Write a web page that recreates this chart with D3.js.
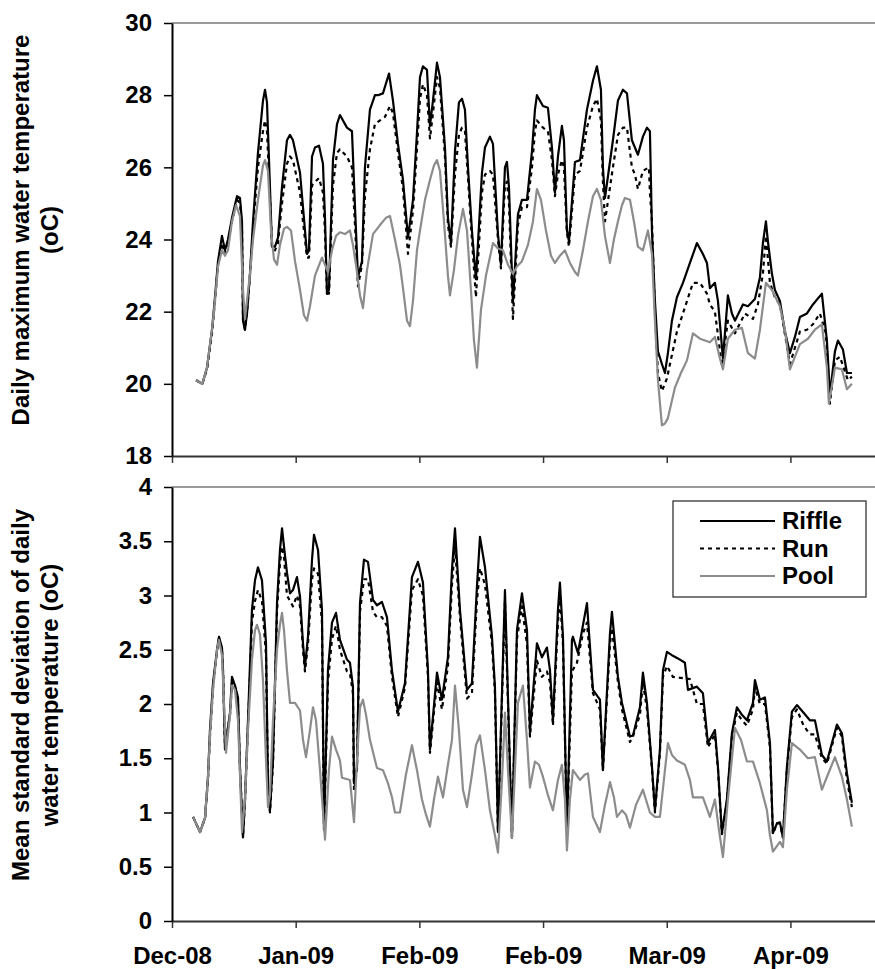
<!DOCTYPE html>
<html>
<head>
<meta charset="utf-8">
<script src="https://cdn.jsdelivr.net/npm/d3@7"></script>
<style>
body { margin: 0; background: #fff; }
svg text { font-family: "Liberation Sans", Arial, sans-serif; font-weight: bold; fill: #000; }
</style>
</head>
<body>
<svg id="chart" width="875" height="969"></svg>
<script>
// x positions are days from the first axis tick
var tickDays = [0, 20, 40, 60, 80, 100];
var tickLabels = ["Dec-08", "Jan-09", "Feb-09", "Feb-09", "Mar-09", "Apr-09"];
var seriesNames = ["Riffle", "Run", "Pool"];
var maxTicks = [18, 20, 22, 24, 26, 28, 30];
var sdTicks = [0, 0.5, 1, 1.5, 2, 2.5, 3, 3.5, 4];

// daily maximum water temperature (oC), [day, value]
var maxRiffle = [[3.9,20.1],[4.9,20.0],[5.66,20.45],[6.47,21.5],[6.95,22.4],[7.44,23.4],[8.08,24.1],[8.57,23.7],[9.05,24.0],[9.70,24.6],[10.51,25.2],[10.99,25.15],[11.32,24.5],[11.48,21.75],[11.80,21.5],[12.13,21.95],[12.61,23.05],[13.10,24.5],[13.90,26.4],[14.71,27.85],[15.04,28.15],[15.36,27.8],[15.84,25.45],[16.17,23.8],[16.65,23.8],[17.14,24.05],[17.79,25.45],[18.59,26.75],[19.08,26.9],[19.56,26.75],[20.70,25.85],[21.18,24.9],[21.83,23.6],[22.15,23.7],[22.64,26.3],[23.12,26.55],[23.77,26.6],[24.41,26.1],[24.74,24.6],[25.06,22.5],[25.38,22.6],[26.03,26.2],[26.68,27.2],[27.16,27.45],[28.29,27.1],[29.10,27.0],[29.59,24.9],[30.07,22.95],[30.72,23.4],[31.20,26.0],[32.01,27.6],[32.82,28.0],[33.31,28.0],[34.11,28.05],[35.09,28.6],[35.73,27.85],[36.54,26.65],[37.35,25.65],[38.16,24.05],[38.97,25.1],[39.61,26.95],[40.10,28.5],[40.58,28.8],[41.23,28.7],[41.71,27.15],[42.20,27.85],[42.85,28.9],[43.33,28.5],[44.14,26.55],[44.62,24.6],[45.11,23.9],[45.76,26.45],[46.40,27.8],[46.89,27.9],[47.37,27.6],[47.86,26.0],[48.50,24.25],[49.15,22.9],[50.12,25.85],[50.61,26.55],[51.41,26.85],[51.90,26.65],[52.71,24.15],[53.19,23.3],[53.84,26.0],[54.16,26.15],[54.49,25.45],[55.13,22.25],[55.94,24.7],[56.59,25.1],[57.40,25.1],[58.21,26.45],[58.69,27.6],[59.01,28.0],[59.98,27.7],[60.79,27.65],[61.44,26.55],[61.92,25.3],[62.41,26.3],[63.05,27.15],[63.38,26.75],[63.86,24.25],[64.19,23.95],[65.16,26.15],[65.97,26.2],[67.10,27.6],[68.07,28.4],[68.71,28.8],[69.36,28.15],[69.68,26.0],[70.01,25.15],[71.30,26.75],[72.11,27.85],[72.92,28.15],[73.57,28.05],[74.37,26.75],[75.34,26.35],[76.15,26.85],[76.80,27.1],[77.28,27.0],[77.61,24.25],[78.09,22.3],[78.58,20.9],[79.22,20.55],[79.71,20.3],[80.19,20.85],[80.84,21.75],[81.65,22.4],[82.62,22.8],[83.75,23.35],[84.88,23.9],[85.85,23.6],[86.50,23.35],[86.98,22.65],[87.79,22.8],[88.28,22.3],[89.09,20.7],[89.89,22.45],[90.54,21.95],[91.03,21.75],[92.32,22.2],[93.13,22.15],[94.26,22.35],[95.07,22.95],[95.55,23.9],[96.04,24.5],[96.36,23.95],[97.01,23.05],[97.49,22.6],[98.30,22.3],[99.11,21.45],[99.92,20.85],[100.73,21.3],[101.54,21.85],[102.67,21.95],[103.64,22.2],[105.09,22.5],[105.90,21.2],[106.39,19.7],[107.20,20.9],[107.68,21.2],[108.49,20.95],[109.14,20.3],[109.94,20.3]];

var maxRun = [[3.9,20.1],[4.9,20.0],[5.66,20.4],[6.47,21.4],[6.95,22.3],[7.44,23.3],[8.08,23.9],[8.57,23.6],[9.05,23.9],[9.70,24.5],[10.51,25.1],[10.99,25.0],[11.32,24.3],[11.48,21.8],[11.80,21.5],[12.13,22.0],[12.61,23.0],[13.10,24.3],[13.90,26.0],[14.71,27.0],[15.04,27.3],[15.36,27.0],[15.84,25.2],[16.17,23.8],[16.65,23.7],[17.14,23.9],[17.79,25.0],[18.59,26.1],[19.08,26.3],[19.56,26.2],[20.70,25.3],[21.18,24.5],[21.83,23.5],[22.15,23.5],[22.64,25.5],[23.12,25.6],[23.77,25.7],[24.41,25.3],[24.74,24.2],[25.06,22.5],[25.38,22.5],[26.03,25.5],[26.68,26.4],[27.16,26.5],[28.29,26.3],[29.10,26.0],[29.59,24.4],[30.07,22.7],[30.72,23.3],[31.20,25.2],[32.01,26.5],[32.82,27.2],[33.63,27.3],[34.44,27.4],[35.25,27.7],[35.73,27.5],[36.54,26.4],[37.35,25.4],[38.16,23.6],[38.97,24.8],[39.61,26.5],[40.10,27.9],[40.58,28.3],[41.23,28.0],[41.71,26.8],[42.20,27.5],[42.85,28.5],[43.33,28.2],[44.14,26.3],[44.62,24.4],[45.11,23.8],[45.76,25.8],[46.40,26.9],[46.89,27.1],[47.37,27.0],[47.86,25.7],[48.50,24.0],[49.15,22.4],[50.12,25.3],[50.61,25.8],[51.41,25.9],[51.90,25.8],[52.71,24.0],[53.19,23.2],[53.84,25.5],[54.16,25.6],[54.49,25.0],[55.13,21.8],[55.94,24.4],[56.59,24.9],[57.40,24.9],[58.21,26.0],[58.69,27.0],[59.01,27.3],[59.98,27.1],[60.79,27.0],[61.44,26.2],[61.92,25.2],[62.41,25.8],[63.05,26.2],[63.38,26.0],[63.86,24.2],[64.19,23.8],[65.16,25.8],[65.97,25.9],[67.10,27.1],[68.07,27.7],[68.71,27.9],[69.36,27.3],[69.68,25.6],[70.01,24.5],[71.30,26.0],[72.11,26.9],[72.92,27.1],[73.57,27.1],[74.37,26.0],[74.86,25.8],[75.34,25.4],[76.15,25.9],[77.12,26.0],[77.28,25.3],[77.61,24.5],[78.09,22.0],[78.58,20.3],[79.22,19.8],[80.03,20.15],[80.84,20.8],[81.65,21.45],[82.62,21.95],[84.24,22.8],[85.37,22.8],[86.50,22.5],[86.98,22.2],[87.79,22.0],[88.92,20.5],[89.89,21.75],[91.03,21.4],[92.64,21.95],[93.94,21.8],[94.74,22.2],[95.55,23.05],[96.04,24.1],[96.69,22.8],[97.49,22.4],[98.30,22.2],[99.92,20.55],[101.54,21.45],[102.67,21.5],[103.64,21.65],[104.77,21.95],[105.74,21.4],[106.39,19.45],[107.20,20.65],[108.00,20.75],[109.30,20.1],[109.94,20.2]];

var maxPool = [[3.9,20.1],[4.9,20.0],[5.66,20.45],[6.47,21.5],[6.95,22.3],[7.44,23.25],[8.08,23.7],[8.57,23.55],[9.05,23.7],[9.70,24.5],[10.35,24.95],[10.99,24.65],[11.48,22.6],[11.80,21.8],[12.61,23.05],[13.10,24.0],[13.90,25.1],[14.71,26.05],[15.04,26.2],[15.52,25.9],[16.01,24.25],[16.49,23.45],[16.98,23.3],[17.46,23.85],[18.11,24.3],[18.59,24.35],[19.24,24.25],[19.89,23.4],[20.70,22.6],[21.34,21.9],[21.83,21.75],[22.31,22.15],[23.12,23.0],[24.25,23.5],[24.74,23.3],[25.22,23.1],[25.87,23.7],[26.52,24.1],[27.16,24.2],[27.97,24.15],[28.78,24.25],[29.26,23.85],[29.75,23.3],[30.40,22.45],[30.88,22.1],[31.53,23.15],[32.50,24.15],[33.63,24.4],[34.60,24.6],[35.25,24.65],[36.05,24.0],[36.86,23.3],[37.35,22.65],[38.00,21.75],[38.48,21.6],[38.97,22.3],[39.61,23.7],[40.10,24.25],[40.91,25.1],[41.71,25.65],[42.36,26.05],[42.85,26.2],[43.33,25.9],[43.98,24.5],[44.62,23.0],[44.95,22.45],[45.59,23.15],[46.24,24.1],[47.05,24.85],[47.70,24.25],[48.34,22.6],[48.83,21.2],[49.31,20.45],[49.96,22.05],[50.77,23.0],[51.90,23.9],[52.71,23.75],[53.52,23.7],[54.33,23.3],[55.13,23.05],[55.78,23.25],[56.59,23.4],[57.56,23.85],[58.37,24.5],[59.01,25.4],[59.66,25.1],[60.47,24.25],[61.28,23.55],[61.92,23.35],[62.73,23.55],[63.54,23.7],[64.35,23.35],[65.16,23.1],[65.64,23.0],[66.45,23.7],[67.26,24.5],[68.07,25.2],[68.71,25.4],[69.36,25.1],[70.01,24.1],[70.33,23.8],[70.82,23.35],[71.46,24.0],[72.11,24.5],[72.76,24.95],[73.24,25.15],[74.05,25.1],[74.70,24.5],[75.34,23.8],[76.15,23.7],[76.96,24.25],[77.61,23.6],[78.09,21.75],[78.58,20.1],[79.22,18.85],[79.71,18.9],[80.19,19.05],[81.33,19.9],[82.30,20.3],[83.27,20.65],[84.24,21.4],[85.37,21.25],[86.98,21.15],[87.79,21.3],[88.60,20.7],[89.09,20.4],[89.89,21.25],[91.03,21.5],[92.16,21.55],[93.13,20.85],[94.26,20.7],[95.07,21.5],[96.04,22.8],[97.01,22.6],[98.30,22.15],[99.11,21.5],[99.92,20.4],[101.54,21.1],[102.83,21.25],[103.96,21.5],[105.09,21.65],[105.90,20.45],[106.22,19.45],[107.20,20.45],[108.33,20.4],[109.14,19.85],[109.94,20.0]];

// mean standard deviation of daily water temperature (oC), [day, value]
var sdRiffle = [[3.40,0.96],[4.53,0.82],[5.34,0.95],[5.82,1.33],[6.14,1.76],[6.63,2.19],[7.28,2.5],[7.60,2.62],[8.08,2.52],[8.25,2.31],[8.57,1.58],[9.38,1.92],[9.70,2.25],[10.19,2.17],[10.67,2.06],[10.99,1.42],[11.48,0.77],[11.80,1.12],[12.29,1.85],[12.93,2.87],[13.42,3.14],[13.90,3.26],[14.55,3.14],[15.20,2.56],[15.52,1.27],[15.84,1.02],[16.33,1.48],[16.98,2.93],[17.46,3.42],[17.79,3.62],[18.11,3.45],[18.59,3.21],[19.08,3.02],[19.56,3.05],[20.21,3.17],[20.70,2.99],[21.18,2.56],[21.50,2.34],[21.99,2.62],[22.64,3.33],[22.96,3.56],[23.61,3.42],[24.25,2.87],[24.58,0.84],[25.22,2.31],[25.87,2.75],[26.52,2.84],[27.16,2.59],[28.29,2.41],[28.78,2.38],[29.26,2.16],[29.43,1.27],[29.91,1.42],[30.40,2.93],[31.04,3.33],[31.69,3.31],[32.50,2.96],[33.14,2.91],[33.95,2.94],[34.76,2.80],[35.57,2.31],[36.54,1.93],[37.67,2.19],[38.80,3.17],[39.77,3.31],[40.58,3.12],[41.39,2.31],[41.71,1.58],[42.85,2.29],[43.65,2.04],[44.62,2.43],[45.27,3.24],[45.76,3.62],[46.56,2.87],[47.70,2.13],[48.50,2.19],[49.31,3.08],[49.80,3.54],[50.61,3.26],[51.74,2.62],[52.22,2.16],[52.71,0.82],[53.84,3.05],[54.97,0.77],[55.78,2.68],[56.59,3.02],[57.40,2.68],[57.88,1.74],[59.01,2.56],[59.82,2.43],[60.63,2.52],[61.12,2.31],[61.60,1.85],[62.41,2.87],[62.73,3.12],[63.22,2.62],[63.86,0.82],[64.67,2.59],[64.83,2.62],[65.64,2.47],[67.10,2.93],[68.07,2.13],[69.20,2.04],[69.68,1.39],[70.82,2.65],[71.14,2.85],[72.11,2.25],[72.76,2.01],[74.05,1.70],[74.54,1.71],[75.67,1.97],[76.15,2.29],[76.80,2.01],[77.61,1.42],[78.09,1.02],[78.90,1.58],[79.39,2.31],[80.03,2.48],[80.84,2.45],[81.81,2.42],[82.94,2.38],[83.43,2.13],[84.88,2.16],[85.85,2.10],[86.66,1.64],[87.79,1.76],[88.28,1.42],[88.92,0.81],[89.73,1.12],[90.54,1.73],[91.35,1.97],[92.16,1.90],[92.97,1.85],[93.94,2.01],[94.26,2.22],[95.07,2.04],[95.88,2.06],[96.69,1.64],[97.17,0.81],[97.82,0.90],[98.30,0.91],[98.79,0.77],[99.43,1.42],[100.24,1.93],[101.05,1.99],[102.13,1.92],[103.15,1.85],[103.96,1.85],[105.09,1.53],[105.90,1.47],[107.52,1.81],[108.33,1.73],[109.14,1.36],[109.94,1.09]];

var sdRun = [[3.40,0.96],[4.53,0.82],[5.34,0.95],[5.82,1.3],[6.14,1.7],[6.63,2.15],[7.28,2.5],[7.60,2.6],[8.08,2.5],[8.25,2.3],[8.57,1.6],[9.38,1.9],[9.70,2.2],[10.19,2.15],[10.67,2.0],[10.99,1.4],[11.48,0.78],[11.80,1.1],[12.29,1.8],[12.93,2.75],[13.42,2.95],[13.90,3.05],[14.55,2.95],[15.20,2.45],[15.52,1.25],[15.84,1.0],[16.33,1.45],[16.98,2.85],[17.46,3.3],[17.79,3.45],[18.11,3.35],[18.59,3.0],[19.08,2.95],[19.56,2.9],[20.21,3.0],[20.70,2.9],[21.18,2.5],[21.50,2.3],[21.99,2.55],[22.64,3.15],[22.96,3.25],[23.61,3.2],[24.25,2.75],[24.58,0.85],[25.22,2.2],[25.87,2.6],[26.52,2.72],[27.16,2.5],[28.29,2.3],[28.78,2.28],[29.26,2.1],[29.43,1.2],[29.91,1.4],[30.40,2.85],[31.04,3.15],[31.69,3.15],[32.50,2.85],[33.14,2.8],[33.95,2.8],[34.76,2.72],[35.57,2.25],[36.54,1.88],[37.67,2.15],[38.80,3.05],[39.77,3.15],[40.58,3.0],[41.39,2.25],[41.71,1.55],[42.85,2.2],[43.65,1.95],[44.62,2.35],[45.27,3.1],[45.76,3.45],[46.56,2.8],[47.70,2.05],[48.50,2.1],[49.31,2.95],[49.80,3.25],[50.61,3.1],[51.74,2.55],[52.22,2.1],[52.71,0.82],[53.84,2.95],[54.97,0.77],[55.78,2.6],[56.59,2.9],[57.40,2.55],[57.88,1.7],[59.01,2.4],[59.82,2.25],[60.63,2.3],[61.12,2.2],[61.60,1.8],[62.41,2.75],[62.73,3.0],[63.22,2.55],[63.86,0.82],[64.67,2.3],[65.48,2.38],[66.45,2.65],[67.10,2.75],[68.07,2.1],[69.20,1.95],[69.68,1.39],[70.82,2.55],[71.14,2.7],[72.11,2.2],[72.76,1.95],[74.05,1.65],[74.54,1.7],[75.67,1.9],[76.15,2.2],[76.80,1.95],[77.61,1.4],[78.09,1.0],[78.90,1.55],[79.39,2.25],[80.03,2.35],[81.00,2.25],[83.75,2.23],[84.88,2.0],[85.85,2.0],[86.66,1.6],[87.79,1.72],[88.28,1.4],[88.92,0.8],[89.73,1.1],[90.54,1.7],[91.35,1.92],[92.16,1.85],[92.97,1.8],[93.94,1.95],[94.26,2.15],[95.07,2.0],[95.88,2.0],[96.69,1.6],[97.17,0.8],[97.82,0.9],[98.30,0.9],[98.79,0.77],[99.43,1.4],[100.24,1.88],[101.05,1.95],[102.13,1.8],[103.15,1.72],[103.96,1.72],[105.09,1.5],[105.90,1.45],[107.52,1.78],[108.33,1.7],[109.14,1.3],[109.94,1.05]];

var sdPool = [[3.40,0.96],[4.53,0.82],[5.34,0.95],[5.82,1.33],[6.14,1.71],[6.63,2.13],[7.28,2.5],[7.60,2.59],[8.08,2.45],[8.25,2.22],[8.73,1.55],[9.38,1.9],[9.70,2.17],[10.19,2.13],[10.67,1.85],[10.99,1.35],[11.32,0.82],[11.80,1.12],[12.29,1.76],[12.93,2.41],[13.42,2.68],[13.74,2.73],[14.23,2.64],[14.71,2.22],[15.20,1.48],[15.52,1.05],[15.84,1.16],[16.33,1.85],[16.98,2.5],[17.46,2.73],[17.79,2.84],[18.11,2.68],[18.59,2.31],[19.08,2.01],[19.89,2.01],[20.70,1.94],[21.18,1.67],[21.67,1.51],[22.31,1.76],[22.80,1.97],[23.28,1.85],[23.93,1.39],[24.74,0.75],[25.38,1.39],[25.87,1.7],[26.52,1.58],[27.16,1.48],[27.49,1.32],[28.78,1.30],[29.43,0.91],[29.91,1.48],[30.40,1.97],[30.88,2.04],[31.37,1.9],[32.01,1.67],[33.14,1.41],[34.11,1.39],[34.92,1.27],[35.57,1.14],[36.05,1.0],[36.86,1.0],[37.83,1.35],[38.80,1.62],[39.61,1.39],[40.42,1.12],[41.07,0.98],[41.71,0.87],[42.36,1.12],[43.01,1.33],[43.82,1.14],[44.62,1.44],[45.27,1.67],[45.76,2.17],[46.40,1.76],[47.05,1.21],[47.70,1.05],[48.50,1.35],[49.15,1.62],[49.80,1.71],[50.61,1.39],[51.41,1.02],[52.22,0.79],[52.71,0.63],[53.36,1.3],[53.84,1.92],[54.33,1.39],[54.97,0.77],[55.46,1.39],[55.94,2.01],[56.75,2.17],[57.40,1.67],[57.88,1.23],[58.69,1.47],[59.34,1.44],[59.98,1.33],[60.79,1.16],[61.60,1.02],[62.41,1.3],[63.05,1.44],[63.54,1.12],[63.86,0.65],[64.35,1.12],[64.83,1.39],[65.97,1.30],[66.77,1.35],[67.26,1.36],[68.07,0.96],[69.20,0.82],[70.01,1.07],[70.82,1.28],[71.46,1.14],[71.95,0.96],[72.76,1.02],[73.40,0.98],[74.05,0.86],[75.02,1.07],[76.15,1.21],[77.28,1.0],[78.09,0.96],[78.90,0.96],[79.71,1.39],[80.19,1.64],[80.84,1.53],[81.65,1.48],[82.94,1.44],[83.75,1.30],[84.24,1.14],[85.85,1.14],[86.98,0.96],[87.79,1.12],[88.44,0.84],[89.09,0.59],[89.89,1.12],[91.03,1.78],[92.00,1.67],[92.97,1.47],[93.94,1.47],[95.07,1.27],[96.20,1.02],[96.69,0.79],[97.17,0.64],[98.30,0.73],[98.79,0.68],[99.43,1.21],[100.24,1.64],[101.54,1.58],[102.83,1.50],[103.96,1.51],[105.09,1.21],[106.06,1.35],[107.20,1.51],[108.33,1.33],[109.14,1.12],[109.94,0.87]];

var lineStyles = [
    { stroke: "#000", width: 2.2, dash: null },
    { stroke: "#000", width: 2.2, dash: "4,4" },
    { stroke: "#8c8c8c", width: 2.2, dash: null }
];

var svg = d3.select("#chart");
var plotLeft = 172, plotRight = 877;

var x = d3.scaleLinear()
    .domain([0, 114])
    .range([plotLeft, plotRight]);

function drawPanel(cfg) {
    var g = svg.append("g").attr("class", cfg.name);
    var y = d3.scaleLinear().domain(cfg.domain).range([cfg.bottom, cfg.top]);

    // plot area top edge
    g.append("line")
        .attr("x1", plotLeft).attr("x2", plotRight)
        .attr("y1", cfg.top).attr("y2", cfg.top)
        .attr("stroke", "#9a9a9a").attr("stroke-width", 2);

    cfg.series.forEach(function(s, j) {
        var st = lineStyles[j];
        g.append("path")
            .datum(s)
            .attr("fill", "none")
            .attr("stroke", st.stroke)
            .attr("stroke-width", st.width)
            .attr("stroke-dasharray", st.dash)
            .attr("stroke-linejoin", "round")
            .attr("d", d3.line()
                .x(function(d) { return x(d[0]); })
                .y(function(d) { return y(d[1]); }));
    });

    var xaxis = g.append("g")
        .attr("transform", "translate(0," + cfg.bottom + ")")
        .call(d3.axisBottom(x)
            .tickValues(tickDays)
            .tickSize(7).tickSizeOuter(0).tickPadding(19)
            .tickFormat(function(d, i) { return cfg.showLabels ? tickLabels[i] : ""; }));
    xaxis.select(".domain").attr("stroke", "#333").attr("stroke-width", 2);
    xaxis.selectAll(".tick line").attr("stroke", "#333").attr("stroke-width", 1.5);
    xaxis.selectAll("text").attr("font-size", "24px").attr("font-family", null);

    var yaxis = g.append("g")
        .attr("transform", "translate(" + plotLeft + ",0)")
        .call(d3.axisLeft(y)
            .tickValues(cfg.ticks)
            .tickSize(8).tickSizeOuter(0).tickPadding(12)
            .tickFormat(function(d) { return String(d); }));
    yaxis.select(".domain").attr("stroke", "#000").attr("stroke-width", 2);
    yaxis.selectAll(".tick line").attr("stroke", "#000").attr("stroke-width", 1.5);
    yaxis.selectAll("text").attr("font-size", "24px").attr("font-family", null);

    // rotated two-line axis title
    cfg.title.forEach(function(t, k) {
        g.append("text")
            .attr("transform", "translate(" + (29 + k * 29) + "," + cfg.titleY + ") rotate(-90)")
            .attr("text-anchor", "middle")
            .style("font-size", "24px")
            .text(t);
    });
}

drawPanel({
    name: "maxPanel",
    domain: [18, 30], top: 23, bottom: 456,
    ticks: maxTicks,
    series: [maxRiffle, maxRun, maxPool],
    showLabels: false,
    title: ["Daily maximum water temperature", "(oC)"],
    titleY: 230
});

drawPanel({
    name: "sdPanel",
    domain: [0, 4], top: 487, bottom: 921,
    ticks: sdTicks,
    series: [sdRiffle, sdRun, sdPool],
    showLabels: true,
    title: ["Mean standard deviation of daily", "water temperature (oC)"],
    titleY: 695
});

// legend
var legend = svg.append("g").attr("class", "legend");
legend.append("rect")
    .attr("x", 673).attr("y", 501)
    .attr("width", 193).attr("height", 96)
    .attr("fill", "#fff").attr("stroke", "#333").attr("stroke-width", 1.3);
var legendY = d3.scalePoint().domain(seriesNames).range([521, 576]);
seriesNames.forEach(function(n, j) {
    var st = lineStyles[j];
    legend.append("line")
        .attr("x1", 700).attr("x2", 775)
        .attr("y1", legendY(n)).attr("y2", legendY(n))
        .attr("stroke", st.stroke).attr("stroke-width", st.width)
        .attr("stroke-dasharray", st.dash);
    legend.append("text")
        .attr("x", 782).attr("y", legendY(n))
        .attr("dy", "0.35em")
        .style("font-size", "24px")
        .text(n);
});
</script>
</body>
</html>
